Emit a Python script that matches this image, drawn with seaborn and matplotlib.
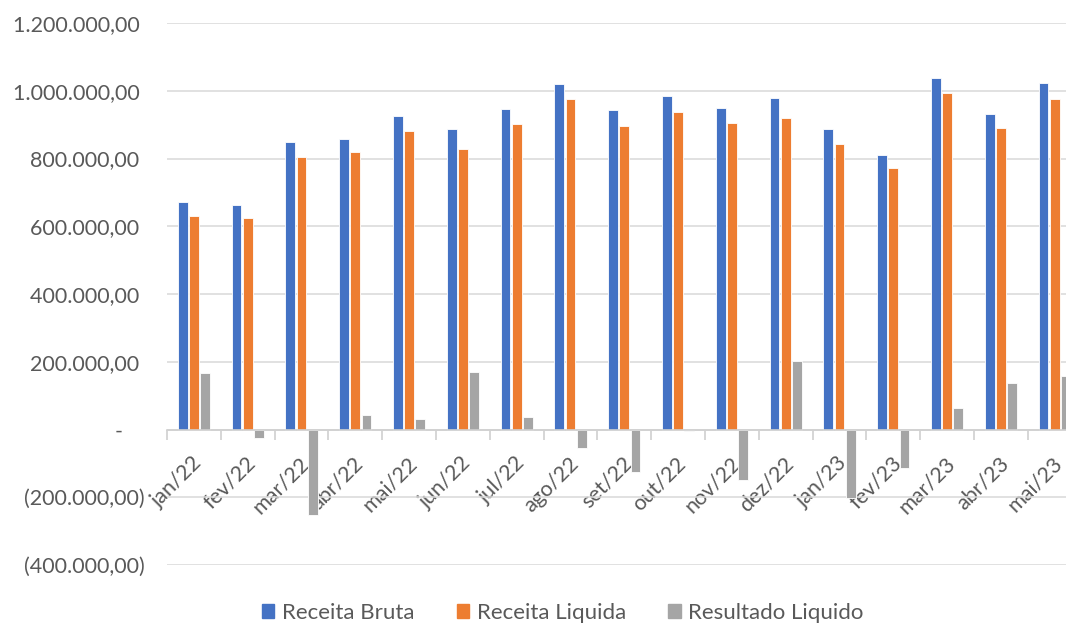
import pandas as pd
import numpy as np
import seaborn as sns
import matplotlib.pyplot as plt
from matplotlib.transforms import ScaledTranslation
from matplotlib.patches import Patch

meses = ['jan/22', 'fev/22', 'mar/22', 'abr/22', 'mai/22', 'jun/22', 'jul/22', 'ago/22', 'set/22',
         'out/22', 'nov/22', 'dez/22', 'jan/23', 'fev/23', 'mar/23', 'abr/23', 'mai/23']
receita_bruta = [673000, 663000, 850000, 859000, 926000, 886000, 947000, 1021000, 942000,
                 984000, 949000, 980000, 887000, 811000, 1039000, 932000, 1022000]
receita_liquida = [631000, 625000, 805000, 819000, 882000, 829000, 903000, 975000, 897000,
                   938000, 906000, 921000, 844000, 773000, 993000, 891000, 977000]
resultado_liquido = [166000, -24000, -252000, 43000, 32000, 169000, 37000, -56000, -126000,
                     -3000, -148000, 201000, -202000, -113000, 62000, 138000, 157000]

series = ['Receita Bruta', 'Receita Liquida', 'Resultado Liquido']
cores = ['#4472C4', '#ED7D31', '#A5A5A5']

df = pd.DataFrame({'mes': meses * 3,
                   'serie': np.repeat(series, len(meses)),
                   'valor': receita_bruta + receita_liquida + resultado_liquido})

sns.set_style('white')
plt.rcParams['font.family'] = ['Lato', 'DejaVu Sans']
cinza_txt = '#595959'

fig = plt.figure(figsize=(10.66, 6.27), dpi=100)
ax = fig.add_axes([167 / 1066, 62 / 627, 17 * 53.8 / 1066, 542 / 627])

sns.barplot(data=df, x='mes', y='valor', hue='serie', palette=cores, saturation=1,
            width=0.62, gap=0.12, edgecolor='white', linewidth=0.6, ax=ax, legend=True)

ax.set_ylim(-400000, 1200000)
ax.set_xlim(-0.5, 16.5)
yt = np.arange(-400000, 1200001, 200000)
ax.set_yticks(yt)

def fmt(v):
    if v == 0:
        return '-    '
    s = '{:,.2f}'.format(abs(v)).replace(',', 'X').replace('.', ',').replace('X', '.')
    return '(' + s + ')' if v < 0 else s + ' '

ax.set_yticklabels([fmt(v) for v in yt], fontsize=15.5, color=cinza_txt)
ax.tick_params(axis='y', length=0, pad=16)
ax.yaxis.grid(True, color='#d9d9d9', linewidth=1.1)
ax.set_axisbelow(True)

for s in ['top', 'right', 'left']:
    ax.spines[s].set_visible(False)
ax.spines['bottom'].set_position(('data', 0))
ax.spines['bottom'].set_color('#d0d0d0')
ax.spines['bottom'].set_linewidth(1.2)

# rotulos dos meses
ax.set_xticks(np.arange(len(meses)))
ax.set_xticklabels(meses, rotation=45, ha='right', va='center', rotation_mode='anchor',
                   fontsize=15.5, color=cinza_txt)
ax.tick_params(axis='x', which='major', length=0, pad=22)
ax.set_xticks(np.arange(-0.5, 17, 1), minor=True)
ax.tick_params(axis='x', which='minor', bottom=True, length=7, color='#d0d0d0', width=1.2)
for lbl in ax.get_xticklabels():
    lbl.set_transform(lbl.get_transform() + ScaledTranslation(3.5 / 72, 0, fig.dpi_scale_trans))

ax.set_xlabel('')
ax.set_ylabel('')

ax.legend_.remove()
handles = [Patch(color=c) for c in cores]
fig.legend(handles, series, loc='center', bbox_to_anchor=(563 / 1066, 14 / 627), ncol=3,
           frameon=False, fontsize=16, handlelength=0.55, handleheight=0.55,
           handletextpad=0.35, columnspacing=1.9, labelcolor=cinza_txt)

fig.savefig('out.png', dpi=100)
